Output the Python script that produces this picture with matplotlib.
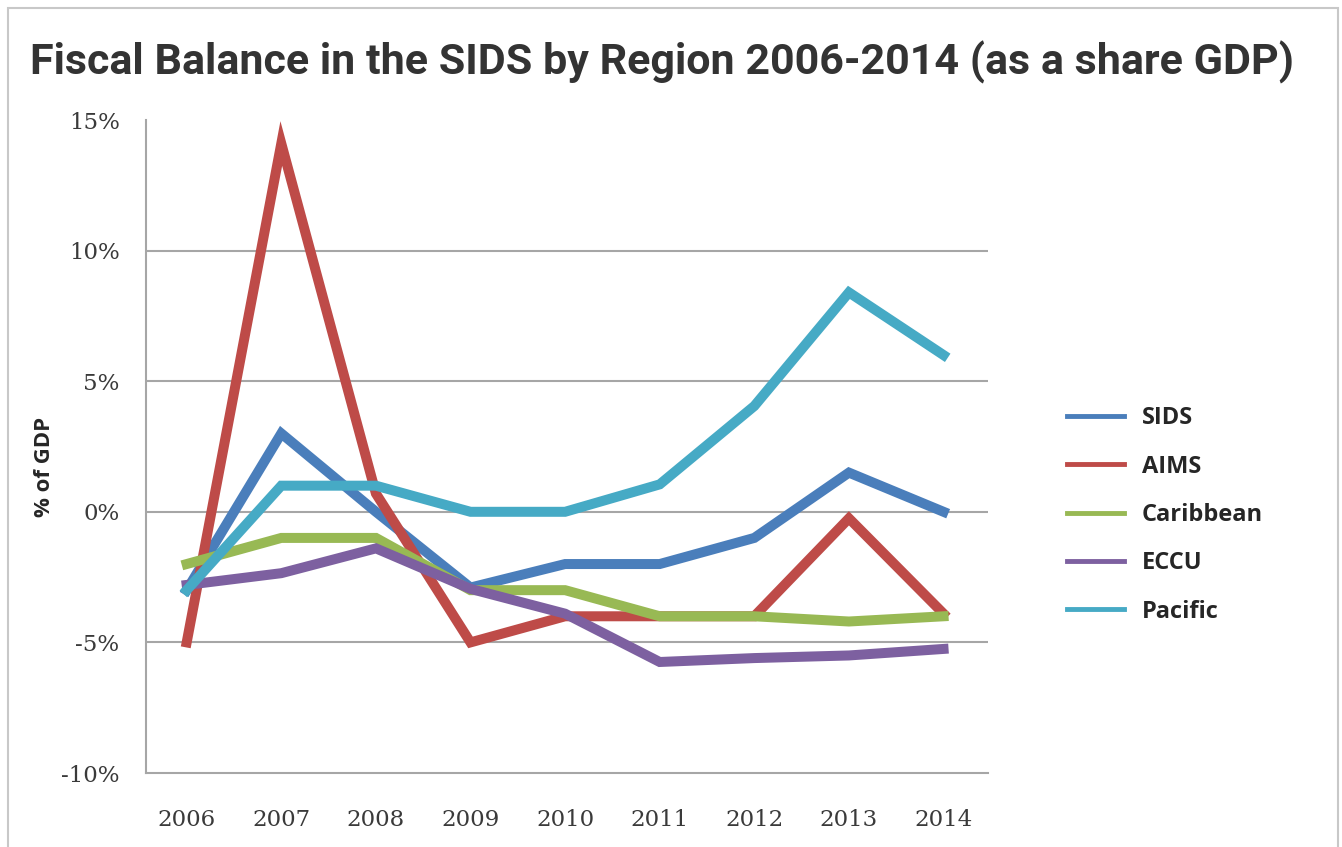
import matplotlib
matplotlib.use("Agg")
import matplotlib.pyplot as plt
from matplotlib.patches import Rectangle

years = ["2006", "2007", "2008", "2009", "2010", "2011", "2012", "2013", "2014"]
sids = [-3.0, 3.0, 0.0, -2.9, -2.0, -2.0, -1.0, 1.5, 0.0]
aims = [-5.0, 14.1, 0.7, -5.0, -4.0, -4.0, -4.0, -0.25, -3.9]
caribbean = [-2.0, -1.0, -1.0, -3.0, -3.0, -4.0, -4.0, -4.2, -4.0]
eccu = [-2.8, -2.35, -1.4, -2.95, -3.9, -5.75, -5.6, -5.5, -5.25]
pacific = [-3.0, 1.0, 1.0, 0.0, 0.0, 1.05, 4.05, 8.4, 6.0]
series_names = ["SIDS", "AIMS", "Caribbean", "ECCU", "Pacific"]
yticks = [-10, -5, 0, 5, 10, 15]
ytick_labels = ["-10%", "-5%", "0%", "5%", "10%", "15%"]

colors = ["#4A7EBB", "#BE4B48", "#98B954", "#7D60A0", "#46AAC5"]

W, H = 1342, 847
fig = plt.figure(figsize=(W / 100, H / 100), dpi=100)
fig.patch.set_facecolor("white")

ax = fig.add_axes([146 / W, 1 - 773 / H, (988 - 146) / W, (773 - 120) / H])
x = list(range(len(years)))
for name, vals, c in zip(series_names, [sids, aims, caribbean, eccu, pacific], colors):
    ax.plot(x, vals, color=c, lw=7.2, label=name, solid_joinstyle="miter", zorder=3)

ax.set_xlim(-0.43, 8.47)
ax.set_ylim(-10, 15)
for v in yticks[1:-1]:
    ax.axhline(v, color="#A6A6A6", lw=1.5, zorder=1)
ax.set_yticks(yticks)
ax.set_yticklabels(ytick_labels)
ax.set_xticks(x)
ax.set_xticklabels(years)
ax.tick_params(axis="both", length=0, labelsize=16.5, labelcolor="#3A3A3A")
ax.tick_params(axis="y", pad=19)
ax.tick_params(axis="x", pad=26)
for lab in ax.get_xticklabels() + ax.get_yticklabels():
    lab.set_family("DejaVu Serif")
for s in ["top", "right"]:
    ax.spines[s].set_visible(False)
for s in ["left", "bottom"]:
    ax.spines[s].set_color("#A6A6A6")
    ax.spines[s].set_linewidth(1.5)

ax.set_ylabel("% of GDP", fontsize=16, fontweight="bold", color="#262626",
              family=["Open Sans", "DejaVu Sans"])
ax.yaxis.set_label_coords(-91 / (988 - 146), (773 - 467) / (773 - 120))

handles, labels = ax.get_legend_handles_labels()
leg = fig.legend(handles, labels, loc="upper left", bbox_to_anchor=(1046 / W, 1 - 385 / H),
                 frameon=False, handlelength=2.4, handletextpad=0.75, labelspacing=1.03,
                 prop={"family": ["Open Sans", "DejaVu Sans"], "weight": "bold", "size": 17})
for lh in leg.get_lines():
    lh.set_linewidth(3.5)
for t in leg.get_texts():
    t.set_color("#262626")

fig.text(662 / W, 1 - 62 / H, "Fiscal Balance in the SIDS by Region 2006-2014 (as a share GDP)",
         ha="center", va="center", fontsize=31, fontweight="bold", color="#333333",
         family=["Roboto", "DejaVu Sans"])

fig.patches.append(Rectangle((8 / W, -0.05), (1338 - 8) / W, 1.05 - 8 / H, transform=fig.transFigure,
                             fill=False, edgecolor="#C8C8C8", lw=1.5))

fig.savefig("out.png", dpi=100)
